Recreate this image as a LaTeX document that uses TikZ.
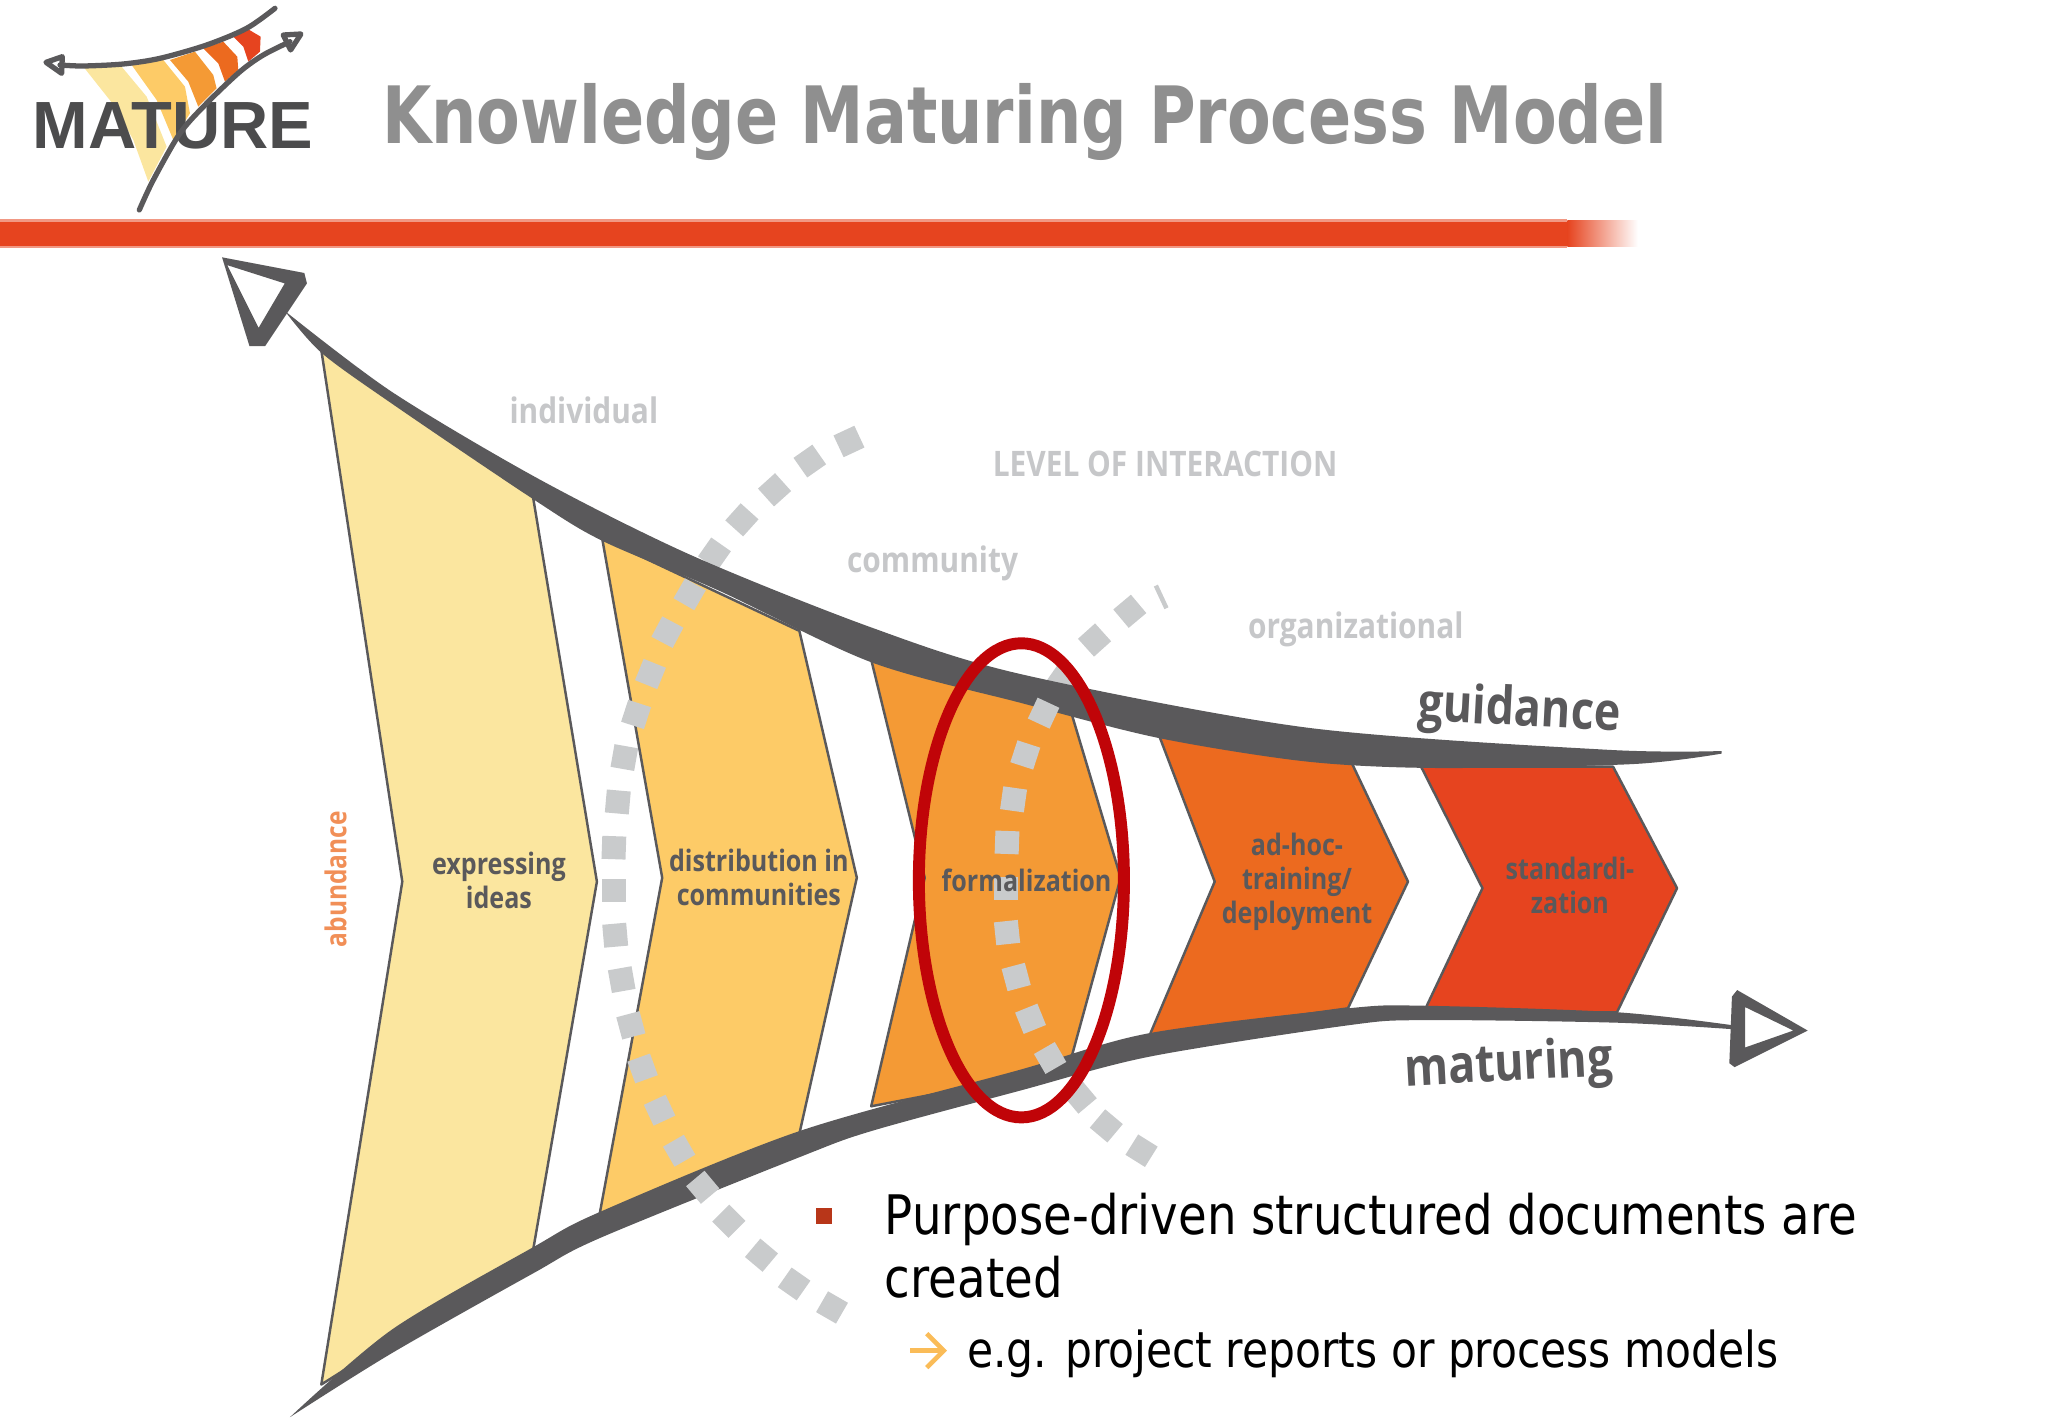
\documentclass[tikz,border=0pt]{standalone}
\usepackage{fontspec}
\usetikzlibrary{arrows.meta}
\setmainfont{DejaVu Sans}
\newfontfamily\titlefont[FakeStretch=0.805]{DejaVu Sans}
\newfontfamily\slidefont[FakeStretch=0.856]{DejaVu Sans}
\newfontfamily\chartfont[FakeStretch=0.85]{Open Sans}
\newfontfamily\logofont{Liberation Sans}
\definecolor{bandgray}{HTML}{5A595B}
\definecolor{dotgray}{HTML}{C9CBCC}
\definecolor{labelgray}{HTML}{C6C7C9}
\definecolor{titlegray}{HTML}{8F8F8F}
\definecolor{barred}{HTML}{E6441F}
\definecolor{ringred}{HTML}{C00408}
\definecolor{stepA}{HTML}{FBE69F}
\definecolor{stepB}{HTML}{FDCB67}
\definecolor{stepC}{HTML}{F49A35}
\definecolor{stepD}{HTML}{EC6A1F}
\definecolor{stepE}{HTML}{E6441F}
\tikzset{
  chevron/.style={draw=bandgray, line width=.7pt, line join=round},
  band/.style={fill=bandgray},
  dotbox/.style={rectangle, fill=dotgray, inner sep=0pt, minimum width=2.3mm, minimum height=2.4mm},
  levellabel/.style={text=labelgray, font=\chartfont\bfseries\fontsize{10}{12}\selectfont},
  steplabel/.style={text=bandgray, align=center, font=\chartfont\bfseries\fontsize{8.4}{9.6}\selectfont},
  axislabel/.style={text=bandgray, font=\chartfont\bfseries\fontsize{15}{17}\selectfont},
  bodytext/.style={text=black, anchor=base west, inner sep=0pt},
}
\begin{document}
\begin{tikzpicture}[x=.1306mm,y=-.1306mm]
  \useasboundingbox (0,0) rectangle (1568,1086);

  % logo
  \begin{scope}[x=.03333mm,y=-.03333mm]
  \fill[stepA] (250,200) -- (365,200) -- (440,290) -- (500,440) -- (445,545) -- (400,420) -- (345,320) -- cycle;
  \fill[stepB] (395,195) -- (490,180) -- (555,260) -- (570,340) -- (520,420) -- (470,300) -- cycle;
  \fill[stepC] (510,180) -- (585,155) -- (640,225) -- (650,265) -- (595,320) -- (565,245) -- cycle;
  \fill[stepD] (610,145) -- (670,125) -- (712,170) -- (715,210) -- (675,245) -- (655,190) -- cycle;
  \fill[stepE] (695,105) -- (740,85) -- (782,110) -- (780,155) -- (745,185) -- (730,140) -- cycle;
  \node[text=bandgray!85!black, inner sep=0pt, anchor=base west, font=\logofont\bfseries\fontsize{19}{20}\selectfont] (logoname) at (96,445) {MATURE};
  \draw[bandgray, line width=1.5pt, line cap=round] plot[smooth] coordinates {(180,195) (250,198) (370,192) (480,175) (620,135) (740,85) (825,25)};
  \draw[bandgray, line width=1.5pt, line cap=round] plot[smooth] coordinates {(418,630) (460,540) (540,400) (620,310) (720,215) (790,165) (870,125)};
  \draw[bandgray, line width=1.5pt, line join=round] (138,187) -- (187,170) -- (185,220) -- cycle;
  \draw[bandgray, line width=1.5pt, line join=round] (903,102) -- (850,105) -- (872,150) -- cycle;
  \end{scope}

  \node[text=titlegray, anchor=base west, inner sep=0pt, font=\titlefont\bfseries\fontsize{22.5}{26}\selectfont] (title) at (292,110) {Knowledge Maturing Process Model};

  \fill[barred!55!white] (0,168) rectangle (1200,190);
  \fill[barred] (0,170) rectangle (1200,188);
  \shade[left color=barred, right color=white] (1200,169) rectangle (1254,189);

  \draw[chevron, fill=stepA] (246,268) -- (408,380) -- (457,675) -- (408,958) -- (246,1060) -- (308,675) -- cycle;
  \draw[chevron, fill=stepB] (461,412) -- (612,483) -- (656,672) -- (612,868) -- (459,930) -- (507,672) -- cycle;
  \draw[chevron, fill=stepC] (667,505) -- (820,545) -- (858,672) -- (818,818) -- (667,847) -- (708,672) -- cycle;
  \draw[chevron, fill=stepD] (887,562) -- (1032,578) -- (1078,675) -- (1032,772) -- (880,793) -- (930,675) -- cycle;
  \draw[chevron, fill=stepE] (1088,587) -- (1235,587) -- (1284,680) -- (1238,775) -- (1090,775) -- (1135,680) -- cycle;

  \foreach \x/\y/\a [count=\i] in {547/424/55,528/455/60,814/519/55}
    \node[dotbox, rotate=\a] (dc\i) at (\x,\y) {};

  \fill[band] plot[smooth] coordinates {(218,238) (300,300) (413,367) (529,425) (666,480) (781,516) (1000,557) (1230,574) (1318,575)}
    -- plot[smooth] coordinates {(1318,577) (1250,585) (1100,588) (1000,583) (887,565) (781,538) (667,507) (550,452) (461,414) (408,382) (300,309) (246,270) (218,238)} -- cycle;
  \fill[band] plot[smooth] coordinates {(222,1085) (300,1018) (408,955) (459,928) (612,866) (781,819) (880,791) (1032,772) (1090,770) (1238,775) (1327,785)}
    -- plot[smooth] coordinates {(1327,788) (1238,783) (1090,781) (1032,785) (880,809) (781,835) (667,866) (612,886) (459,948) (408,975) (300,1036) (222,1085)} -- cycle;

  \foreach \x/\y/\a [count=\i] in {650/338/25,620/353/35,593/375/42,568/398/48,511/484/62,498/516/68,487/547/72,478/580/80,473/614/85,470/649/88,470/682/90,471/716/95,476/750/100,483/785/105,492/818/110,505/850/115,520/881/120,538/909/130,558/935/135,583/961/140,608/983/145,637/1001/150}
    \node[dotbox, rotate=\a] (da\i) at (\x,\y) {};
  \foreach \x/\y/\a [count=\i] in {865/468/40,838/490/42,799/546/65,785/578/72,776/612/82,771/645/88,770/680/90,771/714/96,778/748/105,789/780/112,804/810/120,827/840/130,847/862/140,874/881/148}
    \node[dotbox, rotate=\a] (db\i) at (\x,\y) {};
  \node[dotbox, minimum width=.45mm, minimum height=2.5mm, rotate=25] (dsliver) at (889,457) {};

  \fill[bandgray, even odd rule] (170,197) -- (233,209) -- (235,217) -- (203,265) -- (191,265) -- cycle
    (174,203) -- (198,251) -- (218,217) -- cycle;
  \fill[bandgray, even odd rule] (1326,763) -- (1330,758) -- (1384,789) -- (1328,817) -- (1324,814) -- cycle
    (1336,771) -- (1336,802) -- (1373,789) -- cycle;

  \draw[ringred, line width=3.4pt] (782,674) ellipse (78.5 and 181.5);

  \node[levellabel] (individual) at (447,314) {individual};
  \node[levellabel] (level) at (892,355) {LEVEL OF INTERACTION};
  \node[levellabel] (community) at (714,431) {community};
  \node[levellabel] (organizational) at (1038,482) {organizational};

  \node[axislabel, rotate=-3] (guidance) at (1163,545) {guidance};
  \node[axislabel, rotate=3] (maturing) at (1155,817) {maturing};
  \node[rotate=90, text=stepD!75!white, font=\chartfont\bfseries\fontsize{8.2}{10}\selectfont] (abundance) at (257,673) {abundance};

  \node[steplabel] (ideas) at (382,674) {expressing\\ideas};
  \node[steplabel] (distribution) at (581,672) {distribution in\\communities};
  \node[steplabel] (formalization) at (786,674) {formalization};
  \node[steplabel] (deployment) at (993,675) {ad-hoc-\\training/\\deployment};
  \node[steplabel] (standard) at (1202,678) {standardi-\\zation};

  \node[rectangle, fill=barred!80!black, inner sep=0pt, minimum size=1.6mm] (bullet) at (631,931) {};
  \node[bodytext, font=\slidefont\fontsize{15.5}{17}\selectfont] (purpose) at (677,945) {Purpose-driven structured documents are};
  \node[bodytext, font=\slidefont\fontsize{15.5}{17}\selectfont] (created) at (677,993) {created};
  \coordinate (subtail) at (697,1034);
  \coordinate (subhead) at (725,1034);
  \draw[stepB!70!stepC, line width=1.3pt, -{Straight Barb[length=1.7mm,width=3.4mm]}] (subtail) -- (subhead);
  \node[bodytext, font=\slidefont\fontsize{14.1}{15}\selectfont] (reports) at (740,1047) {e.g. project reports or process models};
\end{tikzpicture}
\end{document}
